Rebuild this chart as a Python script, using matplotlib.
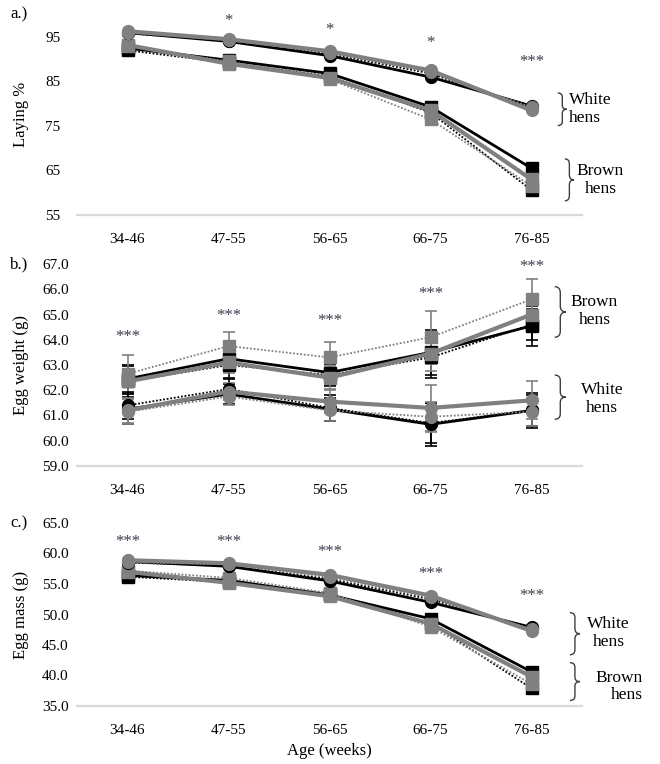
import matplotlib
matplotlib.use("Agg")
import matplotlib.pyplot as plt
from matplotlib.path import Path
from matplotlib.patches import PathPatch
import numpy as np

plt.rcParams['font.family'] = ['Liberation Serif', 'DejaVu Serif']

ages = ["34-46", "47-55", "56-65", "66-75", "76-85"]

# ---- Panel a: Laying %
lay_white_bs = [96.0, 94.0, 90.8, 86.0, 79.5]
lay_white_bd = [95.8, 94.2, 91.2, 86.8, 79.0]
lay_white_gs = [96.3, 94.5, 91.8, 87.5, 78.5]
lay_white_gd = [96.0, 94.3, 91.5, 87.2, 79.2]
lay_brown_bs = [92.5, 89.8, 86.8, 79.3, 65.5]
lay_brown_bd = [92.0, 89.2, 86.2, 78.0, 60.6]
lay_brown_gs = [93.2, 89.0, 85.8, 78.5, 63.0]
lay_brown_gd = [93.0, 89.5, 85.5, 76.5, 61.5]
lay_sig = ["", "*", "*", "*", "***"]
lay_sig_y = [0, 98.6, 96.6, 93.7, 89.4]

# ---- Panel b: Egg weight (g) with SE
ew_brown_bs = [62.45, 63.25, 62.7, 63.5, 64.55]
ew_brown_bd = [62.35, 63.0, 62.6, 63.3, 64.6]
ew_brown_gs = [62.35, 63.1, 62.5, 63.45, 65.0]
ew_brown_gd = [62.65, 63.75, 63.3, 64.1, 65.6]
ew_white_bs = [61.25, 61.85, 61.25, 60.65, 61.2]
ew_white_bd = [61.4, 62.05, 61.3, 60.7, 61.2]
ew_white_gs = [61.2, 61.95, 61.55, 61.3, 61.6]
ew_white_gd = [61.15, 61.75, 61.2, 60.95, 61.15]
se_brown_bs = [0.55, 0.45, 0.5, 0.9, 0.8]
se_brown_bd = [0.6, 0.5, 0.45, 0.8, 0.6]
se_brown_gs = [0.5, 0.4, 0.45, 0.7, 0.6]
se_brown_gd = [0.75, 0.55, 0.6, 1.05, 0.8]
se_white_bs = [0.6, 0.4, 0.45, 0.85, 0.7]
se_white_bd = [0.55, 0.4, 0.5, 0.8, 0.6]
se_white_gs = [0.5, 0.35, 0.45, 0.9, 0.75]
se_white_gd = [0.5, 0.35, 0.4, 0.6, 0.55]
ew_sig = ["***", "***", "***", "***", "***"]
ew_sig_y = [64.1, 64.93, 64.76, 65.8, 66.9]

# ---- Panel c: Egg mass (g)
em_white_bs = [58.7, 57.9, 55.5, 52.0, 47.9]
em_white_bd = [58.5, 58.0, 55.8, 52.5, 47.8]
em_white_gs = [58.9, 58.4, 56.5, 53.1, 47.3]
em_white_gd = [58.6, 58.2, 56.1, 52.8, 47.6]
em_brown_bs = [56.4, 55.6, 53.2, 49.3, 40.6]
em_brown_bd = [56.2, 55.3, 53.4, 48.6, 37.9]
em_brown_gs = [57.0, 55.2, 53.0, 48.5, 39.8]
em_brown_gd = [57.2, 56.0, 53.5, 48.0, 38.6]
em_sig = ["***", "***", "***", "***", "***"]
em_sig_y = [61.9, 61.9, 60.2, 56.6, 53.1]

BLACK = "#000000"
GRAY = "#808080"
STAR = "#3d3d4d"
FS = 11

styles = {
    "bs": dict(color=BLACK, ls="-", lw=2.0),
    "bd": dict(color=BLACK, ls=(0, (1, 1)), lw=1.3),
    "gs": dict(color=GRAY, ls="-", lw=3.0),
    "gd": dict(color=GRAY, ls=(0, (1, 1)), lw=1.3),
}

fig = plt.figure(figsize=(6.6, 7.64), dpi=100)
W, H = 660.0, 764.0

def make_ax(top_px, bottom_px):
    left, right = 77, 582
    return fig.add_axes([left / W, 1 - bottom_px / H, (right - left) / W, (bottom_px - top_px) / H])

def style_ax(ax, ylim, ticks, fmt, ypad):
    ax.set_xlim(-0.5, 4.5)
    ax.set_ylim(*ylim)
    for s in ["top", "right", "left"]:
        ax.spines[s].set_visible(False)
    ax.spines["bottom"].set_color("#d9d9d9")
    ax.spines["bottom"].set_linewidth(1.6)
    ax.set_xticks(range(len(ages)))
    ax.set_xticklabels(ages, fontsize=FS)
    ax.set_yticks(ticks)
    ax.set_yticklabels([fmt.format(t) for t in ticks], fontsize=FS)
    ax.tick_params(axis="x", length=0, pad=13)
    ax.tick_params(axis="y", length=0, pad=ypad)

def brace(ax, x, y0, y1, w):
    ym = (y0 + y1) / 2
    d = 0.12 * (y1 - y0)
    verts = [(x, y1), (x + w / 2, y1), (x + w / 2, y1 - d),
             (x + w / 2, ym + d), (x + w / 2, ym), (x + w, ym),
             (x + w / 2, ym), (x + w / 2, ym - d),
             (x + w / 2, y0 + d), (x + w / 2, y0), (x, y0)]
    codes = [Path.MOVETO, Path.CURVE3, Path.CURVE3, Path.LINETO, Path.CURVE3, Path.CURVE3,
             Path.CURVE3, Path.CURVE3, Path.LINETO, Path.CURVE3, Path.CURVE3]
    ax.add_patch(PathPatch(Path(verts, codes), fill=False, edgecolor="#404040", lw=1.0, clip_on=False))

def plot_series(ax, x, y, key, marker, err=None):
    st = styles[key]
    mc = st["color"]
    if err is not None:
        ax.errorbar(x, y, yerr=err, fmt="none", ecolor=mc, elinewidth=1.2, capsize=4, capthick=1.2, zorder=2)
    ax.plot(x, y, color=mc, ls=st["ls"], lw=st["lw"], marker=marker, ms=8.5,
            mfc=mc, mec=mc, zorder=3)

x = np.arange(len(ages))
LBL = FS + 1.5

# ---------- Panel a
ax1 = make_ax(14.75, 215)
for key, ys in [("bs", lay_brown_bs), ("bd", lay_brown_bd), ("gs", lay_brown_gs), ("gd", lay_brown_gd)]:
    plot_series(ax1, x, ys, key, "s")
for key, ys in [("bs", lay_white_bs), ("bd", lay_white_bd), ("gs", lay_white_gs), ("gd", lay_white_gd)]:
    plot_series(ax1, x, ys, key, "o")
style_ax(ax1, (55, 100), [55, 65, 75, 85, 95], "{:.0f}", 12)
ax1.set_ylabel("Laying %", fontsize=FS + 1)
for i, (s, yy) in enumerate(zip(lay_sig, lay_sig_y)):
    if s:
        ax1.text(i, yy, s, ha="center", va="center", fontsize=FS + 1, color=STAR)
brace(ax1, 4.26, 75.1, 82.4, 0.09)
ax1.text(4.37, 78.8, "White\nhens", ha="left", va="center", fontsize=LBL, linespacing=1.15)
brace(ax1, 4.33, 58.2, 67.6, 0.09)
ax1.text(4.45, 62.9, "Brown\nhens", ha="left", va="center", fontsize=LBL, linespacing=1.15,
         multialignment="center")

# ---------- Panel b
ax2 = make_ax(264, 466)
for key, ys, es in [("bs", ew_brown_bs, se_brown_bs), ("bd", ew_brown_bd, se_brown_bd),
                    ("gs", ew_brown_gs, se_brown_gs), ("gd", ew_brown_gd, se_brown_gd)]:
    plot_series(ax2, x, ys, key, "s", es)
for key, ys, es in [("bs", ew_white_bs, se_white_bs), ("bd", ew_white_bd, se_white_bd),
                    ("gs", ew_white_gs, se_white_gs), ("gd", ew_white_gd, se_white_gd)]:
    plot_series(ax2, x, ys, key, "o", es)
style_ax(ax2, (59, 67), np.arange(59, 67.5, 1.0), "{:.1f}", 6)
ax2.set_ylabel("Egg weight (g)", fontsize=FS + 1)
for i, (s, yy) in enumerate(zip(ew_sig, ew_sig_y)):
    ax2.text(i, yy, s, ha="center", va="center", fontsize=FS + 1, color=STAR)
brace(ax2, 4.23, 64.1, 66.1, 0.11)
ax2.text(4.39, 65.15, "Brown\nhens", ha="left", va="center", fontsize=LBL, linespacing=1.15,
         multialignment="center")
brace(ax2, 4.23, 60.85, 62.6, 0.11)
ax2.text(4.49, 61.65, "White\nhens", ha="left", va="center", fontsize=LBL, linespacing=1.15,
         multialignment="center")

# ---------- Panel c
ax3 = make_ax(523, 706)
for key, ys in [("bs", em_brown_bs), ("bd", em_brown_bd), ("gs", em_brown_gs), ("gd", em_brown_gd)]:
    plot_series(ax3, x, ys, key, "s")
for key, ys in [("bs", em_white_bs), ("bd", em_white_bd), ("gs", em_white_gs), ("gd", em_white_gd)]:
    plot_series(ax3, x, ys, key, "o")
style_ax(ax3, (35, 65), np.arange(35, 65.5, 5.0), "{:.1f}", 6)
ax3.set_ylabel("Egg mass (g)", fontsize=FS + 1)
ax3.set_xlabel("Age (weeks)", fontsize=FS + 1, labelpad=4)
for i, (s, yy) in enumerate(zip(em_sig, em_sig_y)):
    ax3.text(i, yy, s, ha="center", va="center", fontsize=FS + 1, color=STAR)
brace(ax3, 4.38, 43.4, 50.3, 0.1)
ax3.text(4.55, 47.0, "White\nhens", ha="left", va="center", fontsize=LBL, linespacing=1.15,
         multialignment="center")
brace(ax3, 4.38, 35.9, 42.1, 0.1)
ax3.text(4.63, 38.2, "Brown\nhens", ha="left", va="center", fontsize=LBL, linespacing=1.15,
         multialignment="right")

for ax in (ax1, ax2, ax3):
    ax.yaxis.set_label_coords(-0.095, 0.5)

fig.text(10 / W, 1 - 14 / H, "a.)", fontsize=FS + 1, va="center", ha="left")
fig.text(10 / W, 1 - 264 / H, "b.)", fontsize=FS + 1, va="center", ha="left")
fig.text(10 / W, 1 - 523 / H, "c.)", fontsize=FS + 1, va="center", ha="left")

fig.savefig("out.png", dpi=100)
